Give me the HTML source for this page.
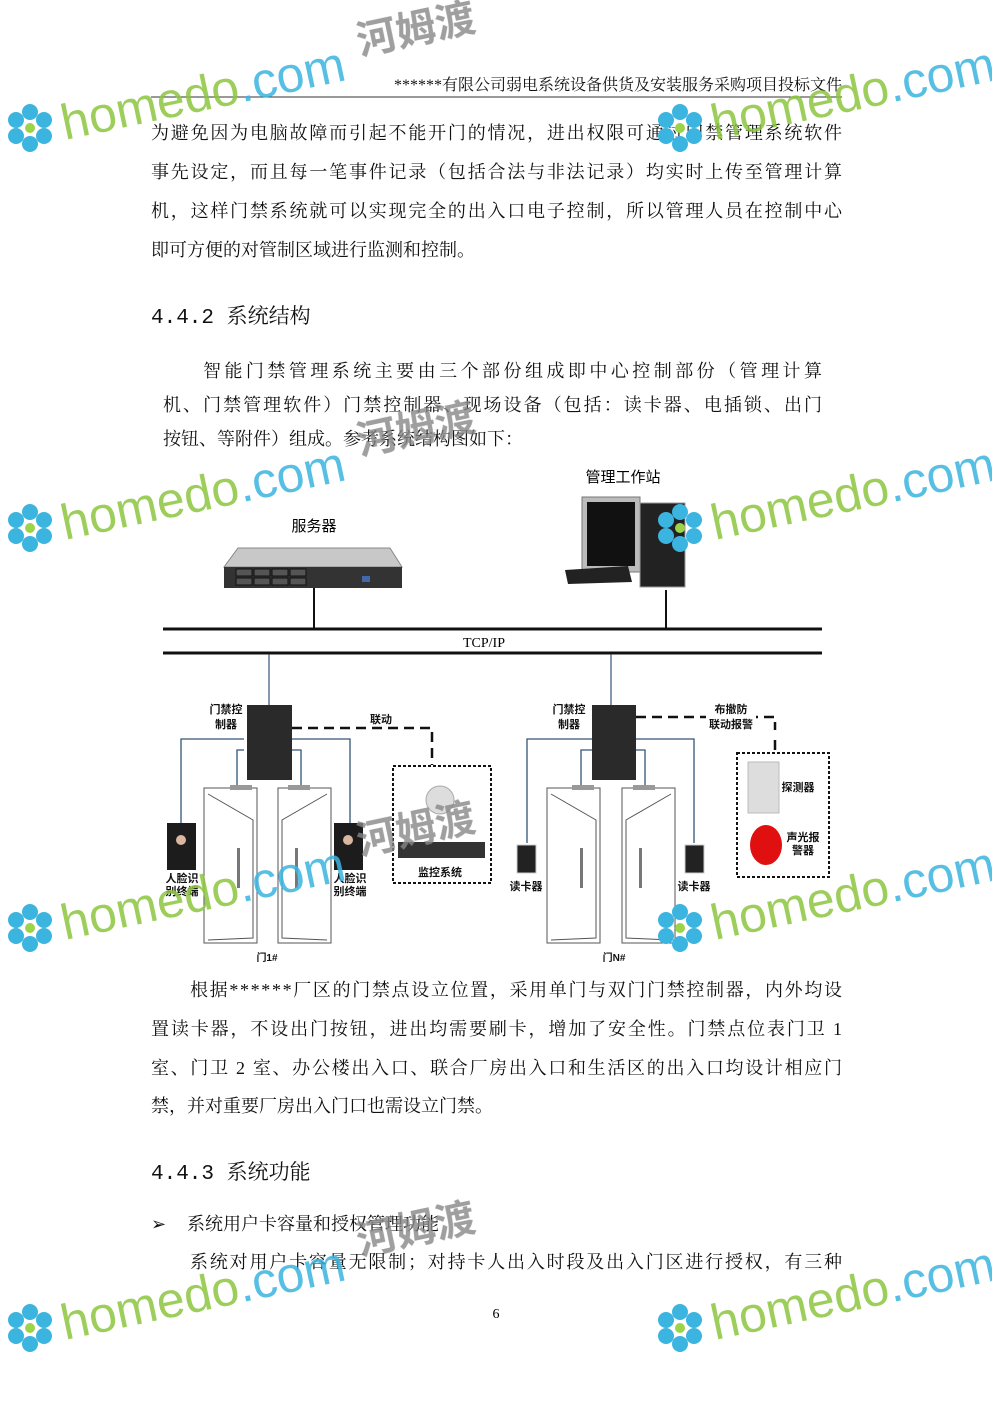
<!DOCTYPE html>
<html><head><meta charset="utf-8"><style>
html,body{margin:0;padding:0;background:#fff}
svg{display:block}
.t{font-family:"Liberation Serif","Noto Serif CJK SC",serif;font-size:18px;fill:#111}
.h{font-family:"Liberation Mono","Noto Serif CJK SC",serif;font-size:21px;fill:#111}
.d{font-family:"Liberation Sans","Noto Sans CJK SC",sans-serif;font-size:11px;fill:#111;font-weight:bold}
.wm{font-family:"Liberation Sans",sans-serif;font-size:50px;opacity:.85}
.wc{font-family:"Liberation Sans","Noto Sans CJK SC",sans-serif;font-size:40px;font-weight:bold;fill:#888;opacity:.8}
</style></head><body>
<svg width="992" height="1403" viewBox="0 0 992 1403" xmlns="http://www.w3.org/2000/svg">
<defs>
<g id="door">
<rect x="0" y="0" width="53" height="155" fill="#fff" stroke="#555" stroke-width="1"/>
<polyline points="4,6 49,32 49,150 4,152" fill="none" stroke="#555"/>
<rect x="33" y="60" width="3" height="40" fill="#777"/>
</g>
<g id="door2">
<rect x="0" y="0" width="53" height="155" fill="#fff" stroke="#555" stroke-width="1"/>
<polyline points="49,6 4,32 4,150 49,152" fill="none" stroke="#555"/>
<rect x="17" y="60" width="3" height="40" fill="#777"/>
</g>
<g id="flower">
<circle cx="0" cy="-16" r="8" fill="#3cb4e0"/><circle cx="0" cy="16" r="8" fill="#3cb4e0"/>
<circle cx="-14" cy="-8" r="8" fill="#3cb4e0"/><circle cx="14" cy="-8" r="8" fill="#3cb4e0"/>
<circle cx="-14" cy="8" r="8" fill="#3cb4e0"/><circle cx="14" cy="8" r="8" fill="#3cb4e0"/>
<circle cx="0" cy="0" r="5" fill="#9bd34a"/>
</g>
<g id="wm">
<use href="#flower" x="30" y="-12"/>
<text x="65" y="0" class="wm" transform="rotate(-12 65 0)"><tspan fill="#8dc63f">homedo</tspan><tspan fill="#3cb4e0">.com</tspan></text>
</g>
</defs>

<text x="842" y="90" text-anchor="end" style="font-family:'Liberation Serif','Noto Serif CJK SC',serif;font-size:16px;fill:#111">******有限公司弱电系统设备供货及安装服务采购项目投标文件</text>
<line x1="151" y1="97" x2="842" y2="97" stroke="#333" stroke-width="1"/>

<text class="t" x="151" y="139" textLength="691">为避免因为电脑故障而引起不能开门的情况，进出权限可通过门禁管理系统软件</text>
<text class="t" x="151" y="178" textLength="691">事先设定，而且每一笔事件记录（包括合法与非法记录）均实时上传至管理计算</text>
<text class="t" x="151" y="217" textLength="691">机，这样门禁系统就可以实现完全的出入口电子控制，所以管理人员在控制中心</text>
<text class="t" x="151" y="256">即可方便的对管制区域进行监测和控制。</text>

<text class="h" x="151" y="323">4.4.2 系统结构</text>

<text class="t" x="203" y="377" textLength="619">智能门禁管理系统主要由三个部份组成即中心控制部份（管理计算</text>
<text class="t" x="163" y="411" textLength="659">机、门禁管理软件）门禁控制器、现场设备（包括：读卡器、电插锁、出门</text>
<text class="t" x="163" y="445">按钮、等附件）组成。参考系统结构图如下：</text>

<text x="623" y="482" text-anchor="middle" style="font-family:'Liberation Sans','Noto Sans CJK SC',sans-serif;font-size:15px">管理工作站</text>
<text x="314" y="531" text-anchor="middle" style="font-family:'Liberation Sans','Noto Sans CJK SC',sans-serif;font-size:15px">服务器</text>
<polygon points="238,548 390,548 402,567 224,567" fill="#c8c8c8" stroke="#888"/>
<rect x="224" y="567" width="178" height="21" fill="#333"/>
<g fill="#555" stroke="#111">
<rect x="236" y="569" width="16" height="7"/><rect x="254" y="569" width="16" height="7"/><rect x="272" y="569" width="16" height="7"/><rect x="290" y="569" width="16" height="7"/>
<rect x="236" y="578" width="16" height="7"/><rect x="254" y="578" width="16" height="7"/><rect x="272" y="578" width="16" height="7"/><rect x="290" y="578" width="16" height="7"/>
</g>
<rect x="362" y="576" width="8" height="6" fill="#4466aa"/>
<rect x="582" y="497" width="58" height="75" fill="#bbb" stroke="#777"/>
<rect x="587" y="502" width="48" height="64" fill="#111"/>
<rect x="604" y="572" width="16" height="10" fill="#888"/>
<rect x="640" y="503" width="45" height="84" fill="#222" stroke="#999"/>
<polygon points="565,570 628,566 632,582 568,584" fill="#222"/>
<line x1="314" y1="588" x2="314" y2="628" stroke="#111" stroke-width="2"/>
<line x1="666" y1="590" x2="666" y2="628" stroke="#111" stroke-width="2"/>
<line x1="163" y1="629" x2="822" y2="629" stroke="#111" stroke-width="3"/>
<line x1="163" y1="653" x2="822" y2="653" stroke="#111" stroke-width="3"/>
<text x="484" y="647" text-anchor="middle" style="font-family:'Liberation Serif',serif;font-size:14px">TCP/IP</text>
<line x1="269" y1="654" x2="269" y2="706" stroke="#335577" stroke-width="1.2"/>
<line x1="611" y1="654" x2="611" y2="706" stroke="#335577" stroke-width="1.2"/>

<text class="d" x="226" y="713" text-anchor="middle">门禁控</text>
<text class="d" x="226" y="728" text-anchor="middle">制器</text>
<rect x="247" y="705" width="45" height="75" fill="#2a2a2a"/>
<g fill="none" stroke="#335577" stroke-width="1.3">
<polyline points="244,739 181,739 181,823"/><polyline points="244,750 237,750 237,785"/>
<polyline points="292,739 350,739 350,823"/><polyline points="292,750 301,750 301,785"/>
<polyline points="592,739 527,739 527,843"/><polyline points="592,750 581,750 581,785"/>
<polyline points="636,739 694,739 694,843"/><polyline points="636,750 645,750 645,785"/>
</g>
<path d="M292 728 H432 V765" fill="none" stroke="#111" stroke-width="2.5" stroke-dasharray="10,6"/>
<text class="d" x="381" y="723" text-anchor="middle">联动</text>
<use href="#door" x="204" y="788"/>
<use href="#door2" x="278" y="788"/>
<rect x="230" y="785" width="22" height="5" fill="#999"/><rect x="288" y="785" width="22" height="5" fill="#999"/>
<rect x="167" y="823" width="29" height="47" fill="#1c1c1c"/><circle cx="181" cy="840" r="5" fill="#d9b7a0"/>
<rect x="334" y="823" width="29" height="47" fill="#1c1c1c"/><circle cx="348" cy="840" r="5" fill="#d9b7a0"/>
<text class="d" x="182" y="882" text-anchor="middle">人脸识</text><text class="d" x="182" y="895" text-anchor="middle">别终端</text>
<text class="d" x="350" y="882" text-anchor="middle">人脸识</text><text class="d" x="350" y="895" text-anchor="middle">别终端</text>
<rect x="393" y="766" width="98" height="117" fill="none" stroke="#111" stroke-width="2" stroke-dasharray="3,2"/>
<ellipse cx="440" cy="800" rx="14" ry="14" fill="#ddd" stroke="#aaa"/>
<rect x="398" y="842" width="87" height="16" fill="#333"/>
<text class="d" x="440" y="876" text-anchor="middle">监控系统</text>
<text class="d" x="267" y="961" text-anchor="middle" style="font-size:10px">门1#</text>

<text class="d" x="569" y="713" text-anchor="middle">门禁控</text>
<text class="d" x="569" y="728" text-anchor="middle">制器</text>
<rect x="592" y="705" width="44" height="75" fill="#2a2a2a"/>
<path d="M636 717 H775 V730 M775 740 V753" fill="none" stroke="#111" stroke-width="2.5" stroke-dasharray="10,6"/>
<rect x="706" y="702" width="50" height="28" fill="#fff"/>
<text class="d" x="731" y="713" text-anchor="middle">布撤防</text>
<text class="d" x="731" y="728" text-anchor="middle">联动报警</text>
<use href="#door" x="547" y="788"/>
<use href="#door2" x="622" y="788"/>
<rect x="572" y="785" width="22" height="5" fill="#999"/><rect x="633" y="785" width="22" height="5" fill="#999"/>
<rect x="517" y="845" width="19" height="28" fill="#222" stroke="#ccc"/>
<rect x="685" y="845" width="19" height="28" fill="#222" stroke="#ccc"/>
<text class="d" x="526" y="890" text-anchor="middle">读卡器</text>
<text class="d" x="694" y="890" text-anchor="middle">读卡器</text>
<rect x="737" y="753" width="92" height="124" fill="none" stroke="#111" stroke-width="2" stroke-dasharray="3,2"/>
<rect x="748" y="762" width="31" height="51" fill="#ddd" stroke="#bbb"/>
<text class="d" x="798" y="791" text-anchor="middle">探测器</text>
<ellipse cx="766" cy="845" rx="16" ry="20" fill="#e01010"/>
<text class="d" x="803" y="841" text-anchor="middle">声光报</text>
<text class="d" x="803" y="854" text-anchor="middle">警器</text>
<text class="d" x="614" y="961" text-anchor="middle" style="font-size:10px">门N#</text>

<text class="t" x="190" y="996" textLength="652">根据******厂区的门禁点设立位置，采用单门与双门门禁控制器，内外均设</text>
<text class="t" x="151" y="1035" textLength="691">置读卡器，不设出门按钮，进出均需要刷卡，增加了安全性。门禁点位表门卫 1</text>
<text class="t" x="151" y="1074" textLength="691">室、门卫 2 室、办公楼出入口、联合厂房出入口和生活区的出入口均设计相应门</text>
<text class="t" x="151" y="1112">禁，并对重要厂房出入门口也需设立门禁。</text>

<text class="h" x="151" y="1179">4.4.3 系统功能</text>
<text class="t" x="151" y="1230">➢</text>
<text class="t" x="187" y="1230">系统用户卡容量和授权管理功能</text>
<text class="t" x="190" y="1268" textLength="652">系统对用户卡容量无限制；对持卡人出入时段及出入门区进行授权，有三种</text>
<text x="496" y="1318" text-anchor="middle" style="font-family:'Liberation Serif',serif;font-size:14px">6</text>

<use href="#wm" x="0" y="140"/>
<use href="#wm" x="650" y="140"/>
<use href="#wm" x="0" y="540"/>
<use href="#wm" x="650" y="540"/>
<use href="#wm" x="0" y="940"/>
<use href="#wm" x="650" y="940"/>
<use href="#wm" x="0" y="1340"/>
<use href="#wm" x="650" y="1340"/>
<g class="wc">
<text x="360" y="55" transform="rotate(-12 360 55)">河姆渡</text>
<text x="360" y="455" transform="rotate(-12 360 455)">河姆渡</text>
<text x="360" y="855" transform="rotate(-12 360 855)">河姆渡</text>
<text x="360" y="1255" transform="rotate(-12 360 1255)">河姆渡</text>
</g>
</svg>
</body></html>
